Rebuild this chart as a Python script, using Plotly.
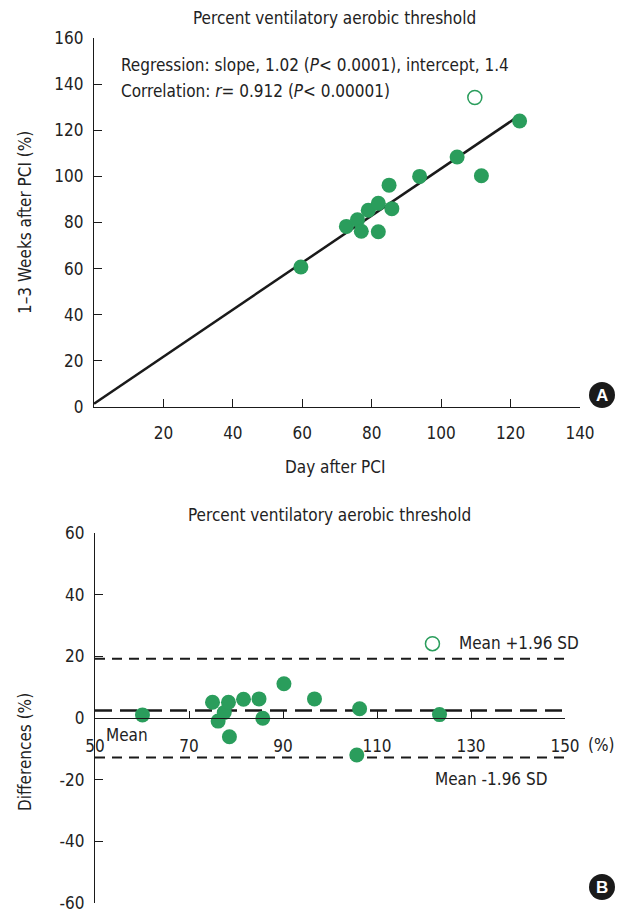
import plotly.graph_objects as go

# ---------------- data ----------------
# Panel A: scatter, day after PCI vs 1-3 weeks after PCI (%)
day_after_pci = [59.6, 72.7, 75.9, 77.0, 79.0, 81.9, 81.9, 85.0, 85.8, 93.8, 104.6, 111.6, 122.6]
weeks_after_pci = [60.7, 78.3, 81.2, 76.2, 85.3, 88.3, 76.0, 96.2, 86.0, 100.0, 108.4, 100.3, 124.0]
outlier_a_x = [109.7]
outlier_a_y = [134.2]
reg_slope = 1.02
reg_intercept = 1.4
reg_x_range = [0, 121]

# Panel B: Bland-Altman
ba_mean = [60.1, 75.0, 76.2, 77.5, 78.4, 78.6, 81.6, 84.9, 85.7, 90.2, 96.7, 106.3, 105.7, 123.3]
ba_diff = [1.0, 5.1, -1.0, 1.8, 5.1, -6.1, 6.1, 6.2, -0.1, 11.1, 6.2, 3.0, -12.0, 1.1]
outlier_b_x = [121.8]
outlier_b_y = [24.1]
mean_diff = 2.4
upper_loa = 19.2
lower_loa = -12.8
ba_x_range = [50, 150]

a_xticks = [20, 40, 60, 80, 100, 120, 140]
a_yticks = [0, 20, 40, 60, 80, 100, 120, 140, 160]
b_xticks = [50, 70, 90, 110, 130, 150]
b_yticks = [-60, -40, -20, 0, 20, 40, 60]
b_yticklabels = ["-60", "-40", "-20", "0", "20", "40", "60"]

# ---------------- style ----------------
OFF = 8  # page body margin
W, H = 638 - OFF, 914 - OFF
FONT = "Liberation Sans Narrow, DejaVu Sans Condensed, Arial Narrow, sans-serif"
GREEN = "#2a9d5c"
FS = 17


def px(x):
    return (x - OFF) / W


def py(y):
    return 1 - (y - OFF) / H


fig = go.Figure()

# Panel A
fig.add_trace(go.Scatter(
    x=reg_x_range, y=[reg_intercept + reg_slope * v for v in reg_x_range],
    mode="lines", line=dict(color="#1a1a1a", width=2.5),
    xaxis="x", yaxis="y", showlegend=False, hoverinfo="skip"))
fig.add_trace(go.Scatter(
    x=day_after_pci, y=weeks_after_pci, mode="markers",
    marker=dict(color=GREEN, size=15, line=dict(width=0)),
    xaxis="x", yaxis="y", showlegend=False))
fig.add_trace(go.Scatter(
    x=outlier_a_x, y=outlier_a_y, mode="markers",
    marker=dict(color="white", size=14, line=dict(color=GREEN, width=1.5)),
    xaxis="x", yaxis="y", showlegend=False))

# Panel B
fig.add_trace(go.Scatter(
    x=ba_x_range, y=[upper_loa, upper_loa], mode="lines",
    line=dict(color="#1a1a1a", width=2, dash="10px,7px"),
    xaxis="x2", yaxis="y2", showlegend=False, hoverinfo="skip"))
fig.add_trace(go.Scatter(
    x=ba_x_range, y=[lower_loa, lower_loa], mode="lines",
    line=dict(color="#1a1a1a", width=2, dash="10px,7px"),
    xaxis="x2", yaxis="y2", showlegend=False, hoverinfo="skip"))
fig.add_trace(go.Scatter(
    x=ba_x_range, y=[mean_diff, mean_diff], mode="lines",
    line=dict(color="#1a1a1a", width=2.5, dash="17px,8px"),
    xaxis="x2", yaxis="y2", showlegend=False, hoverinfo="skip"))
fig.add_trace(go.Scatter(
    x=ba_mean, y=ba_diff, mode="markers",
    marker=dict(color=GREEN, size=15, line=dict(width=0)),
    xaxis="x2", yaxis="y2", showlegend=False))
fig.add_trace(go.Scatter(
    x=outlier_b_x, y=outlier_b_y, mode="markers",
    marker=dict(color="white", size=14, line=dict(color=GREEN, width=1.5)),
    xaxis="x2", yaxis="y2", showlegend=False))

axis_common = dict(
    showgrid=False, zeroline=False, showline=True, linecolor="#1a1a1a",
    linewidth=1.3, ticks="inside", tickcolor="#1a1a1a", tickwidth=1.3,
    ticklen=8, automargin=False, tickfont=dict(family=FONT, size=FS, color="#222"))

# domains from pixel positions
a_x_dom = [px(94), px(580)]
a_y_dom = [py(407), py(38)]
b_x_dom = [px(95), px(565)]
b_y_dom = [py(903), py(533)]
b_x_pos = b_y_dom[0] + (0 - b_yticks[0]) / (b_yticks[-1] - b_yticks[0]) * (b_y_dom[1] - b_y_dom[0])

fig.update_layout(
    template="none",
    width=W, height=H, margin=dict(l=0, r=0, t=0, b=0, pad=0),
    paper_bgcolor="white", plot_bgcolor="rgba(0,0,0,0)",
    font=dict(family=FONT, size=FS, color="#222"),
    xaxis=dict(domain=a_x_dom, range=[0, 140], anchor="y", tickvals=a_xticks,
               ticklabelstandoff=10, **axis_common),
    yaxis=dict(domain=a_y_dom, range=[0, 160], anchor="x", tickvals=a_yticks,
               ticklabelstandoff=6, **axis_common),
    xaxis2=dict(domain=b_x_dom, range=ba_x_range, anchor="free", position=b_x_pos,
                tickvals=b_xticks, ticklabelstandoff=12,
                **{**axis_common, "ticklen": 7}),
    yaxis2=dict(domain=b_y_dom, range=[-60, 60], anchor="x2", tickvals=b_yticks,
                ticktext=b_yticklabels, ticklabelstandoff=6, **axis_common),
)

ann = []


def add_text(text, x, y, size=FS, xanchor="center", yanchor="middle", angle=0, **kw):
    ann.append(dict(text=text, x=px(x), y=py(y), xref="paper", yref="paper",
                    xanchor=xanchor, yanchor=yanchor, textangle=angle, showarrow=False,
                    font=dict(family=FONT, size=size, color="#222"), **kw))


add_text("Percent ventilatory aerobic threshold", 334, 18)
add_text("Percent ventilatory aerobic threshold", 329, 515)
add_text("Regression: slope, 1.02 (<i>P</i>< 0.0001), intercept, 1.4", 119, 65, xanchor="left")
add_text("Correlation: <i>r</i>= 0.912 (<i>P</i>< 0.00001)", 119, 91, xanchor="left")
add_text("Day after PCI", 335, 467)
add_text("1–3 Weeks after PCI (%)", 25, 223, angle=-90)
add_text("Differences (%)", 25, 752, angle=-90)
add_text("Mean", 104, 735, xanchor="left")
add_text("Mean +1.96 SD", 457, 643, xanchor="left")
add_text("Mean -1.96 SD", 433, 779, xanchor="left")
add_text("(%)", 586, 745, xanchor="left")

# circular panel badges
for label, cx, cy in [("A", 602, 395), ("B", 602, 887)]:
    r = 13
    fig.add_shape(type="circle", xref="paper", yref="paper", layer="below",
                  x0=px(cx - r), x1=px(cx + r), y0=py(cy + r), y1=py(cy - r),
                  fillcolor="#1a1a1a", line=dict(width=0))
    ann.append(dict(text="<b>" + label + "</b>", x=px(cx), y=py(cy), xref="paper",
                    yref="paper", showarrow=False, xanchor="center", yanchor="middle",
                    font=dict(family="Liberation Sans, Arial, sans-serif", size=17, color="white")))

fig.update_layout(annotations=ann)
fig.write_html("out.html")
